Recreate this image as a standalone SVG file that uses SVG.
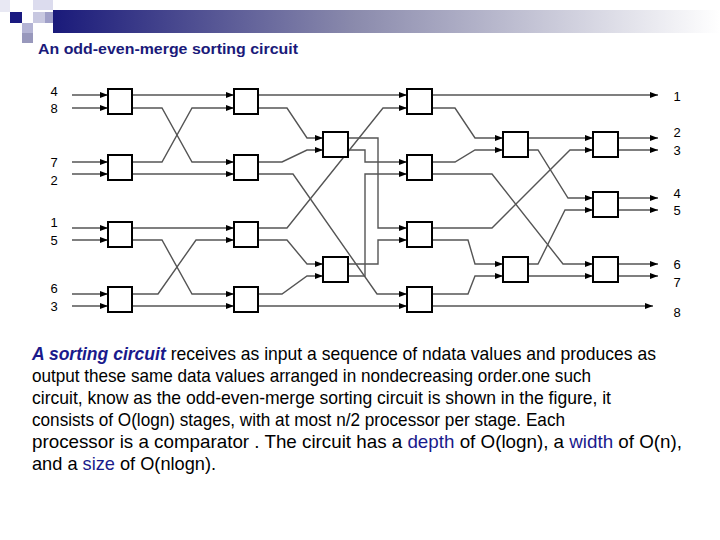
<svg xmlns="http://www.w3.org/2000/svg" width="720" height="540" viewBox="0 0 720 540">
<defs>
<linearGradient id="bar" x1="0" x2="1" y1="0" y2="0">
<stop offset="0" stop-color="#1a1a7a"/><stop offset="0.45" stop-color="#8a8aac"/><stop offset="1" stop-color="#ffffff"/>
</linearGradient>
<marker id="ah" markerWidth="8" markerHeight="6" refX="8" refY="3" orient="auto" markerUnits="userSpaceOnUse">
<path d="M0,0 L8,3 L0,6 z" fill="#000"/>
</marker>
</defs>
<style>
.w{fill:none;stroke:#555;stroke-width:1.4}
.b{fill:#fff;stroke:#000;stroke-width:2}
.n{font-family:"Liberation Sans",Arial,sans-serif;font-size:13px;fill:#000}
.p{font-family:"Liberation Sans",Arial,sans-serif;font-size:18.5px;fill:#000}
.k{fill:#1a1a8c}
</style>
<rect width="720" height="540" fill="#fff"/>
<g id="header">
<rect x="53" y="10" width="667" height="23" fill="url(#bar)"/>
<rect x="0" y="0" width="10" height="12" fill="#e8e8f3"/>
<rect x="33" y="0" width="20" height="10" fill="#dcdcee"/>
<rect x="10" y="12" width="12" height="11" fill="#1a1a80"/>
<rect x="33" y="12" width="12" height="11" fill="#c8c8e0"/>
<rect x="45" y="12" width="8" height="11" fill="#a0a0c8"/>
<rect x="22" y="23" width="11" height="10" fill="#b4b4d4"/>
<rect x="22" y="33" width="11" height="10" fill="#9898bc"/>
</g>
<text x="38" y="54" font-family="Liberation Sans,Arial,sans-serif" font-size="15.5" font-weight="bold" fill="#1a1a7a" textLength="260" lengthAdjust="spacingAndGlyphs">An odd-even-merge sorting circuit</text>

<g id="connectors">
<g class="w" marker-end="url(#ah)">
<path d="M72,95H108"/><path d="M72,108H108"/>
<path d="M72,162H108"/><path d="M72,174H108"/>
<path d="M72,228H108"/><path d="M72,240H108"/>
<path d="M72,294H108"/><path d="M72,306H108"/>
<path d="M132,95H234"/>
<path d="M132,108H162L192,162H234"/>
<path d="M132,162H162L192,108H234"/>
<path d="M132,174H234"/>
<path d="M132,228H234"/>
<path d="M132,240H162L192,294H234"/>
<path d="M132,294H158L196,240H234"/>
<path d="M132,306H234"/>
<path d="M258,95H407"/>
<path d="M258,108H287L307,138H323"/>
<path d="M258,162H282L307,150H323"/>
<path d="M258,174H293L377,294H407"/>
<path d="M258,228H287L383,108H407"/>
<path d="M258,240H287L307,264H323"/>
<path d="M258,294H282L307,276H323"/>
<path d="M258,306H407"/>
<path d="M348,138H378V228H407"/>
<path d="M348,150H365V162H407"/>
<path d="M348,264H378V240H407"/>
<path d="M348,276H365V174H407"/>
<path d="M432,95H658"/>
<path d="M432,108H455L475,138H503"/>
<path d="M432,162H455L475,150H503"/>
<path d="M432,174H492L563,264H593"/>
<path d="M432,228H492L570,150H593"/>
<path d="M432,240H468L475,264H503"/>
<path d="M432,294H468L475,276H503"/>
<path d="M432,306H653"/>
<path d="M528,138H593"/>
<path d="M528,150H538L568,198H593"/>
<path d="M528,264H538L565,210H593"/>
<path d="M528,276H593"/>
<path d="M618,138H658"/><path d="M618,150H658"/>
<path d="M618,198H658"/><path d="M618,210H658"/>
<path d="M618,264H658"/><path d="M618,276H658"/>
</g>
</g>

<g id="col1">
<rect id="c1a" class="b" x="108" y="89" width="24" height="25"/>
<rect id="c1b" class="b" x="108" y="155" width="24" height="25"/>
<rect id="c1c" class="b" x="108" y="222" width="24" height="25"/>
<rect id="c1d" class="b" x="108" y="287" width="24" height="25"/>
</g>
<g id="col2">
<rect id="c2a" class="b" x="234" y="89" width="24" height="25"/>
<rect id="c2b" class="b" x="234" y="155" width="24" height="25"/>
<rect id="c2c" class="b" x="234" y="222" width="24" height="25"/>
<rect id="c2d" class="b" x="234" y="287" width="24" height="25"/>
</g>
<g id="col3">
<rect id="c3a" class="b" x="323" y="132" width="25" height="25"/>
<rect id="c3b" class="b" x="323" y="257" width="25" height="25"/>
</g>
<g id="col4">
<rect id="c4a" class="b" x="407" y="89" width="25" height="25"/>
<rect id="c4b" class="b" x="407" y="155" width="25" height="25"/>
<rect id="c4c" class="b" x="407" y="222" width="25" height="25"/>
<rect id="c4d" class="b" x="407" y="287" width="25" height="25"/>
</g>
<g id="col5">
<rect id="c5a" class="b" x="503" y="132" width="25" height="25"/>
<rect id="c5b" class="b" x="503" y="257" width="25" height="25"/>
</g>
<g id="col6">
<rect id="c6a" class="b" x="593" y="132" width="25" height="25"/>
<rect id="c6b" class="b" x="593" y="192" width="25" height="25"/>
<rect id="c6c" class="b" x="593" y="257" width="25" height="25"/>
</g>

<g id="inlabels" class="n" text-anchor="middle">
<text x="54" y="96">4</text><text x="54" y="113">8</text>
<text x="54" y="167">7</text><text x="54" y="185">2</text>
<text x="54" y="227">1</text><text x="54" y="245">5</text>
<text x="54" y="293">6</text><text x="54" y="311">3</text>
</g>
<g id="outlabels" class="n" text-anchor="middle">
<text x="677" y="101">1</text>
<text x="677" y="137">2</text><text x="677" y="155">3</text>
<text x="677" y="198">4</text><text x="677" y="215">5</text>
<text x="677" y="269">6</text><text x="677" y="287">7</text>
<text x="677" y="317">8</text>
</g>

<g id="para" class="p">
<text x="32" y="360" textLength="624" lengthAdjust="spacingAndGlyphs"><tspan class="k" font-weight="bold" font-style="italic">A sorting circuit</tspan> receives as input a sequence of ndata values and produces as</text>
<text x="32" y="382" textLength="559" lengthAdjust="spacingAndGlyphs">output these same data values arranged in nondecreasing order.one such</text>
<text x="32" y="404" textLength="579" lengthAdjust="spacingAndGlyphs">circuit, know as the odd-even-merge sorting circuit is shown in the figure, it</text>
<text x="32" y="426" textLength="533" lengthAdjust="spacingAndGlyphs">consists of O(logn) stages, with at most n/2 processor per stage. Each</text>
<text x="32" y="448" textLength="650" lengthAdjust="spacingAndGlyphs">processor is a comparator . The circuit has a <tspan class="k">depth</tspan> of O(logn), a <tspan class="k">width</tspan> of O(n),</text>
<text x="32" y="470" textLength="184" lengthAdjust="spacingAndGlyphs">and a <tspan class="k">size</tspan> of O(nlogn).</text>
</g>
</svg>
